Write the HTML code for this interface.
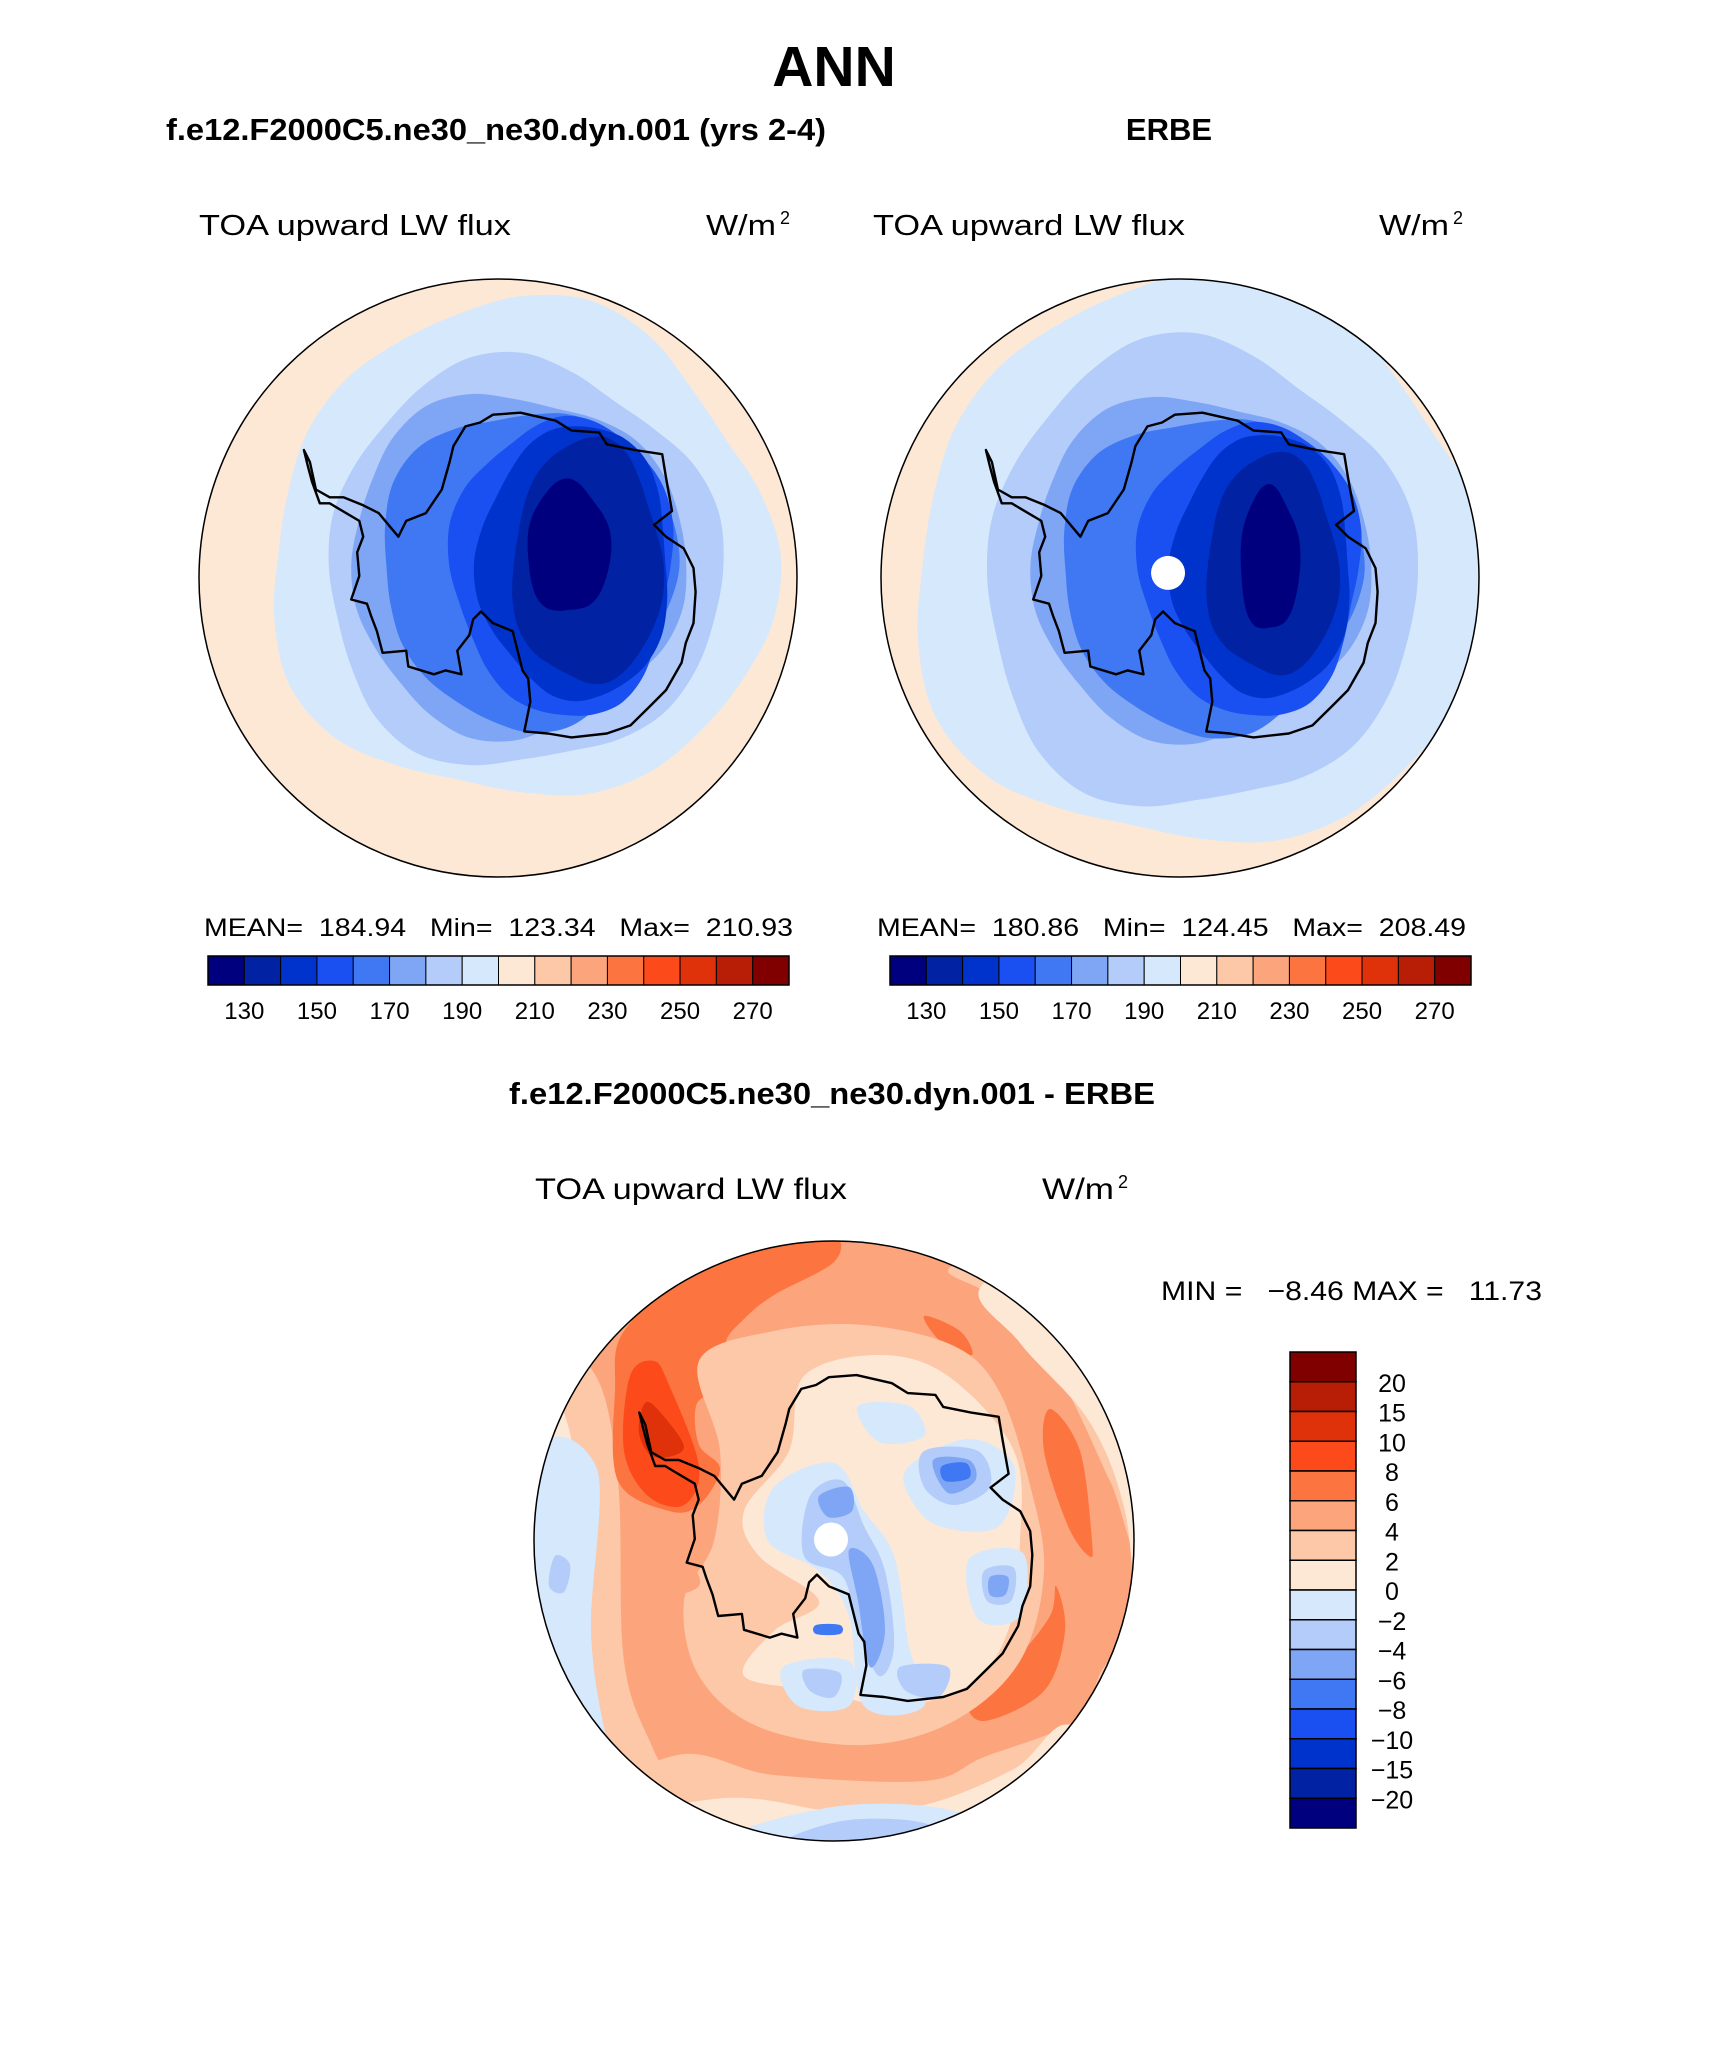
<!DOCTYPE html>
<html><head><meta charset="utf-8"><style>
html,body{margin:0;padding:0;background:#fff;}
svg{display:block;font-family:"Liberation Sans",sans-serif;}
</style></head><body>
<svg id="fig" width="1710" height="2061" viewBox="0 0 1710 2061" xmlns="http://www.w3.org/2000/svg">
<rect width="1710" height="2061" fill="#fff"/>
<text x="834" y="86" font-size="57" font-weight="bold" text-anchor="middle">ANN</text>
<text x="166" y="140" font-size="31" font-weight="bold" textLength="660" lengthAdjust="spacingAndGlyphs">f.e12.F2000C5.ne30_ne30.dyn.001 (yrs 2-4)</text>
<text x="1169" y="140" font-size="31" font-weight="bold" text-anchor="middle">ERBE</text>
<text x="509" y="1104" font-size="31" font-weight="bold" textLength="646" lengthAdjust="spacingAndGlyphs">f.e12.F2000C5.ne30_ne30.dyn.001 - ERBE</text>

<text x="199" y="235" font-size="29" textLength="312" lengthAdjust="spacingAndGlyphs">TOA upward LW flux</text>
<text x="706" y="235" font-size="29" textLength="70" lengthAdjust="spacingAndGlyphs">W/m</text>
<text x="780" y="224" font-size="18">2</text>
<text x="873" y="235" font-size="29" textLength="312" lengthAdjust="spacingAndGlyphs">TOA upward LW flux</text>
<text x="1379" y="235" font-size="29" textLength="70" lengthAdjust="spacingAndGlyphs">W/m</text>
<text x="1453" y="224" font-size="18">2</text>
<text x="535" y="1199" font-size="30" textLength="312" lengthAdjust="spacingAndGlyphs">TOA upward LW flux</text>
<text x="1042" y="1199" font-size="30" textLength="72" lengthAdjust="spacingAndGlyphs">W/m</text>
<text x="1118" y="1188" font-size="18">2</text>

<text id="lstats" x="204" y="936" font-size="25" textLength="589" lengthAdjust="spacingAndGlyphs" xml:space="preserve"></text>
<text id="rstats" x="877" y="936" font-size="25" textLength="589" lengthAdjust="spacingAndGlyphs" xml:space="preserve"></text>
<text id="dstats" x="1161" y="1300" font-size="27" textLength="381" lengthAdjust="spacingAndGlyphs" xml:space="preserve"></text>

<g id="maps"></g>
<g id="bars"></g>
</svg>
<script>
// ---- data ----
var absLevels = [130,140,150,160,170,180,190,200,210,220,230,240,250,260,270];
var absColors = ["#00007f","#0022a3","#0033cc","#1a50f2","#3f78f2","#7fa6f5","#b3ccfa","#d6e8fc","#fde8d6","#fcc8a8","#fca47c","#fc7440","#fc4a1a","#e0320a","#b81e05","#800000"];
var diffLevels = [-20,-15,-10,-8,-6,-4,-2,0,2,4,6,8,10,15,20];
var leftStats = [184.94,123.34,210.93];
var rightStats = [180.86,124.45,208.49];
var diffStats = [-8.46,11.73];
var absTickLabels = [130,150,170,190,210,230,250,270];

// continent outline (normalized to map radius)
var coast = [[-0.109,-0.507],[-0.06,-0.52],[-0.017,-0.546],[0.075,-0.553],[0.193,-0.526],[0.246,-0.493],[0.338,-0.487],[0.364,-0.447],[0.457,-0.428],[0.549,-0.414],[0.562,-0.336],[0.582,-0.224],[0.522,-0.178],[0.562,-0.138],[0.621,-0.099],[0.654,-0.033],[0.661,0.046],[0.654,0.151],[0.628,0.217],[0.614,0.283],[0.562,0.375],[0.509,0.428],[0.443,0.493],[0.364,0.52],[0.246,0.533],[0.167,0.52],[0.088,0.513],[0.108,0.414],[0.101,0.336],[0.082,0.309],[0.049,0.178],[-0.017,0.151],[-0.057,0.112],[-0.083,0.138],[-0.096,0.191],[-0.136,0.243],[-0.122,0.322],[-0.175,0.309],[-0.214,0.322],[-0.3,0.296],[-0.307,0.243],[-0.386,0.25],[-0.405,0.178],[-0.425,0.125],[-0.438,0.086],[-0.491,0.072],[-0.464,-0.007],[-0.471,-0.086],[-0.451,-0.138],[-0.464,-0.191],[-0.53,-0.23],[-0.563,-0.25],[-0.596,-0.25],[-0.622,-0.322],[-0.636,-0.375],[-0.649,-0.428],[-0.629,-0.388],[-0.609,-0.296],[-0.563,-0.27],[-0.517,-0.27],[-0.451,-0.243],[-0.399,-0.217],[-0.333,-0.138],[-0.307,-0.191],[-0.241,-0.217],[-0.188,-0.296],[-0.162,-0.388],[-0.149,-0.441]];

// contour regions: [colorIndex, cx, cy, rx, ry]
var leftRegions = [[7,0.08,-0.08,0.84,0.83],[6,0.08,-0.04,0.66,0.68],[5,0.06,-0.05,0.56,0.57],[4,0.1,-0.04,0.49,0.53],[3,0.22,-0.04,0.37,0.5],[2,0.26,-0.05,0.32,0.46],[1,0.3,-0.05,0.25,0.41],[0,0.235,-0.1,0.14,0.22]];
var rightRegions = [[7,0.07,-0.04,0.96,0.95],[6,0.06,0.0,0.72,0.78],[5,0.06,-0.04,0.57,0.57],[4,0.1,-0.02,0.5,0.53],[3,0.24,-0.03,0.37,0.49],[2,0.28,-0.04,0.3,0.44],[1,0.31,-0.04,0.22,0.37],[0,0.3,-0.06,0.1,0.24]];

// difference map polygons: [colorIndex, points]
var diffPolys = [
 [9,[[-1,-0.62],[-0.8,-0.56],[-0.72,-0.2],[-0.7,0.4],[-0.6,0.7],[-0.45,1],[-1,1]]],
 [8,[[-1,-0.42],[-0.88,-0.36],[-0.85,0.2],[-0.78,0.6],[-0.68,0.9],[-1,1]]],
 [7,[[-1,-0.24],[-0.79,-0.24],[-0.81,0.3],[-0.76,0.65],[-0.7,0.8],[-1,0.9]]],
 [6,[[-0.93,0.05],[-0.88,0.08],[-0.9,0.17],[-0.95,0.15]]],
 [11,[[-0.7,-0.7],[-0.47,-0.89],[-0.18,-1.0],[0.0,-1.02],[0.0,-0.93],[-0.2,-0.82],[-0.3,-0.74],[-0.36,-0.66],[-0.3,-0.58],[-0.4,-0.5],[-0.46,-0.45],[-0.45,-0.32],[-0.38,-0.24],[-0.45,-0.12],[-0.55,-0.1],[-0.72,-0.2],[-0.73,-0.5]]],
 [12,[[-0.68,-0.55],[-0.6,-0.6],[-0.55,-0.52],[-0.45,-0.25],[-0.5,-0.12],[-0.62,-0.15],[-0.7,-0.3]]],
 [13,[[-0.63,-0.46],[-0.58,-0.43],[-0.5,-0.31],[-0.6,-0.28],[-0.65,-0.36]]],
 [9,[[0.4,-0.92],[0.55,-0.8],[0.75,-0.55],[0.92,-0.2],[1.02,0.0],[1.02,-1.02]]],
 [8,[[0.5,-0.86],[0.62,-0.66],[0.85,-0.4],[0.97,-0.1],[1.02,0.3],[1.02,-1.02]]],
 [11,[[0.72,-0.44],[0.82,-0.3],[0.86,0.0],[0.85,0.05],[0.78,-0.05],[0.7,-0.3]]],
 [11,[[0.74,0.15],[0.77,0.3],[0.7,0.5],[0.5,0.6],[0.45,0.52],[0.6,0.4],[0.72,0.25]]],
 [11,[[0.3,-0.75],[0.42,-0.7],[0.46,-0.62],[0.36,-0.66]]],
 [9,[[-0.55,0.72],[-0.2,0.78],[0.3,0.8],[0.5,0.72],[0.8,0.6],[0.9,0.42],[1.02,0.3],[1.02,1.02],[-1,1.02]]],
 [8,[[-0.4,0.86],[0,0.9],[0.3,0.88],[0.6,0.76],[0.8,0.62],[1.02,1.02],[-1,1.02]]],
 [7,[[-0.3,0.96],[0.05,0.88],[0.4,0.9],[0.55,1.02],[-0.3,1.02]]],
 [6,[[-0.15,0.99],[0.05,0.93],[0.3,0.94],[0.38,1.02],[-0.1,1.02]]],
 [9,[[-0.45,-0.6],[-0.2,-0.7],[0.1,-0.72],[0.4,-0.65],[0.55,-0.5],[0.65,-0.2],[0.7,0.1],[0.62,0.4],[0.4,0.6],[0.1,0.68],[-0.25,0.62],[-0.45,0.45],[-0.5,0.2],[-0.4,0],[-0.38,-0.3]]],
 [10,[[-0.6,0.05],[-0.48,0.08],[-0.45,0.15],[-0.55,0.18],[-0.62,0.12]]],
 [8,[[-0.1,-0.55],[0.15,-0.62],[0.38,-0.55],[0.6,-0.3],[0.62,0.0],[0.58,0.3],[0.45,0.48],[0.2,0.55],[-0.05,0.5],[-0.3,0.45],[-0.2,0.3],[-0.05,0.2],[-0.25,0.05],[-0.3,-0.1],[-0.15,-0.3]]],
 [7,[[-0.2,-0.18],[0.0,-0.26],[0.1,-0.1],[0.2,0.05],[0.25,0.35],[0.3,0.55],[0.1,0.55],[0.05,0.25],[-0.05,0.1],[-0.22,0.0]]],
 [7,[[0.25,-0.25],[0.45,-0.34],[0.6,-0.25],[0.55,-0.05],[0.35,-0.05],[0.25,-0.15]]],
 [7,[[0.08,-0.45],[0.25,-0.45],[0.3,-0.35],[0.15,-0.33]]],
 [7,[[-0.17,0.42],[0.05,0.4],[0.05,0.55],[-0.12,0.55]]],
 [7,[[0.45,0.06],[0.63,0.04],[0.62,0.25],[0.48,0.26]]],
 [6,[[-0.08,-0.15],[0.03,-0.2],[0.1,-0.05],[0.17,0.1],[0.2,0.35],[0.15,0.45],[0.08,0.3],[0.03,0.12],[-0.1,0.05]]],
 [6,[[0.3,-0.3],[0.48,-0.3],[0.52,-0.18],[0.4,-0.12],[0.3,-0.18]]],
 [6,[[-0.1,0.43],[0.02,0.44],[0.0,0.52],[-0.08,0.5]]],
 [6,[[0.5,0.1],[0.6,0.09],[0.59,0.2],[0.51,0.2]]],
 [6,[[0.22,0.42],[0.38,0.42],[0.35,0.52],[0.24,0.5]]],
 [5,[[0.05,0.03],[0.13,0.08],[0.17,0.3],[0.12,0.42],[0.08,0.2]]],
 [5,[[-0.05,-0.15],[0.05,-0.18],[0.06,-0.1],[-0.02,-0.08]]],
 [5,[[0.33,-0.27],[0.45,-0.27],[0.47,-0.2],[0.38,-0.16]]],
 [5,[[0.52,0.12],[0.58,0.12],[0.57,0.18],[0.52,0.18]]],
 [4,[[0.36,-0.25],[0.44,-0.26],[0.45,-0.21],[0.37,-0.2]]],
 [4,[[-0.06,0.28],[0.02,0.28],[0.02,0.31],[-0.06,0.31]]]
];

// ---- drawing ----
var NS="http://www.w3.org/2000/svg";
var maps=document.getElementById('maps'), bars=document.getElementById('bars');
function mk(tag,attrs,parent){var e=document.createElementNS(NS,tag);for(var k in attrs)e.setAttribute(k,attrs[k]);(parent||maps).appendChild(e);return e;}
function smooth(pts){var n=pts.length,d='M'+pts[0][0].toFixed(1)+','+pts[0][1].toFixed(1);
 for(var i=0;i<n;i++){var p0=pts[(i-1+n)%n],p1=pts[i],p2=pts[(i+1)%n],p3=pts[(i+2)%n];
  var c1=[p1[0]+(p2[0]-p0[0])/6,p1[1]+(p2[1]-p0[1])/6],c2=[p2[0]-(p3[0]-p1[0])/6,p2[1]-(p3[1]-p1[1])/6];
  d+='C'+c1[0].toFixed(1)+','+c1[1].toFixed(1)+' '+c2[0].toFixed(1)+','+c2[1].toFixed(1)+' '+p2[0].toFixed(1)+','+p2[1].toFixed(1);}
 return d+'Z';}
function poly(pts){return 'M'+pts.map(function(p){return p[0].toFixed(1)+','+p[1].toFixed(1);}).join('L')+'Z';}
function drawMap(id,cx,cy,R,regions,polys,baseColor,dot){
 var cp=mk('clipPath',{id:'clip'+id});mk('circle',{cx:cx,cy:cy,r:R},cp);
 var g=mk('g',{'clip-path':'url(#clip'+id+')'});
 
 
 mk('circle',{cx:cx,cy:cy,r:R,fill:baseColor},g);
 (regions||[]).forEach(function(r,k){
  var pts=[];for(var a=0;a<24;a++){var t=a/24*2*Math.PI;var w=1+0.04*Math.sin(3*t+k)+0.03*Math.cos(5*t+2*k);
   pts.push([cx+R*(r[1]+r[3]*w*Math.cos(t)),cy+R*(r[2]+r[4]*w*Math.sin(t))]);}
  var p=mk('path',{d:smooth(pts),fill:absColors[r[0]]},g);
  
  
 });
 (polys||[]).forEach(function(pl){
  var pts=pl[1].map(function(q){return [cx+R*q[0],cy+R*q[1]];});
  var p=mk('path',{d:smooth(pts),fill:absColors[pl[0]]},g);
  
  
 });
 var c=mk('path',{d:poly(coast.map(function(q){return [cx+R*q[0],cy+R*q[1]];})),fill:'none',stroke:'#000','stroke-width':2.4,'stroke-linejoin':'round'},g);
 
 
 if(dot){var d=mk('circle',{cx:cx+R*dot[0],cy:cy+R*dot[1],r:17,fill:'#fff'},g);
  
  }
 var o=mk('circle',{cx:cx,cy:cy,r:R,fill:'none',stroke:'#000','stroke-width':1.5});
 
 
}
drawMap('left',498,578,299,leftRegions,null,absColors[8],null);
drawMap('right',1180,578,299,rightRegions,null,absColors[8],[-0.04,-0.017]);
drawMap('diff',834,1541,300,null,diffPolys,absColors[10],[-0.01,-0.005]);

function hbar(name,x0,x1,y0,h){
 var w=(x1-x0)/absColors.length;
 absColors.forEach(function(c,i){var r=mk('rect',{x:x0+i*w,y:y0,width:w,height:h,fill:c,stroke:'#000','stroke-width':1},bars);
  
  });
 var o=mk('rect',{x:x0,y:y0,width:x1-x0,height:h,fill:'none',stroke:'#000','stroke-width':1.5},bars);
 
 
 absTickLabels.forEach(function(v){var i=absLevels.indexOf(v)+1;
  var t=mk('text',{x:x0+i*w,y:y0+h+34,'font-size':24,'text-anchor':'middle'},bars);t.textContent=v;
  
  });
}
hbar('left-colorbar',208,789,956,29);
hbar('right-colorbar',890,1471,956,29);
(function(){var x0=1290,x1=1356,y0=1352,y1=1828,n=absColors.length,h=(y1-y0)/n;
 for(var i=0;i<n;i++){var r=mk('rect',{x:x0,y:y0+i*h,width:x1-x0,height:h,fill:absColors[n-1-i],stroke:'#000','stroke-width':1.5},bars);
  
  }
 for(var j=0;j<diffLevels.length;j++){var v=diffLevels[diffLevels.length-1-j];
  var t=mk('text',{x:1392,y:y0+(j+1)*h+10,'font-size':25,'text-anchor':'middle'},bars);t.textContent=(v<0?'\u2212'+(-v):''+v);
  
  }
})();
function f2(v){return v.toFixed(2);}
document.getElementById('lstats').textContent='MEAN=  '+f2(leftStats[0])+'   Min=  '+f2(leftStats[1])+'   Max=  '+f2(leftStats[2]);
document.getElementById('rstats').textContent='MEAN=  '+f2(rightStats[0])+'   Min=  '+f2(rightStats[1])+'   Max=  '+f2(rightStats[2]);
document.getElementById('dstats').textContent='MIN =   \u2212'+f2(-diffStats[0])+' MAX =   '+f2(diffStats[1]);
</script>
</body></html>
